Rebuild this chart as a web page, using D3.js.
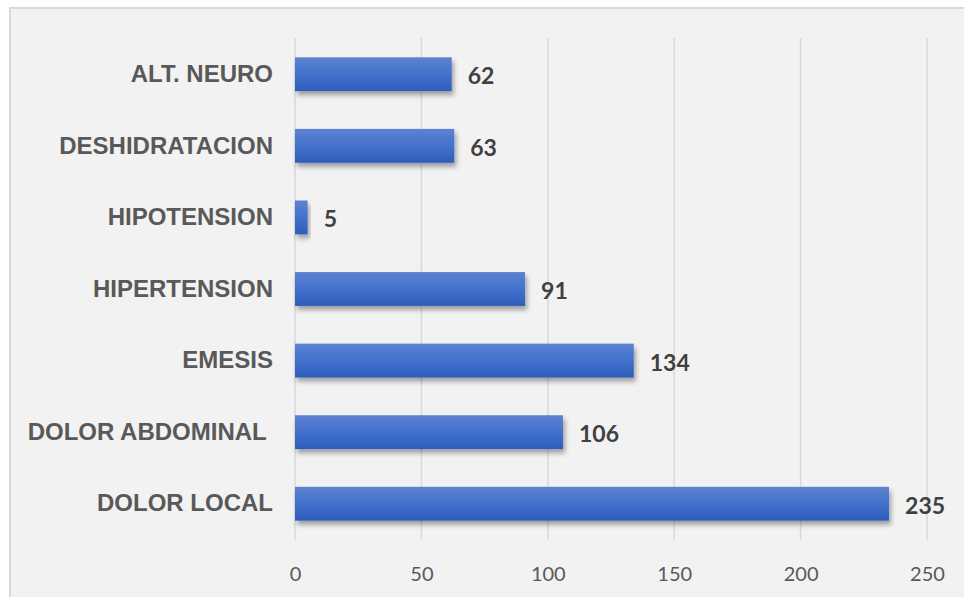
<!DOCTYPE html>
<html>
<head>
<meta charset="utf-8">
<script src="https://cdn.jsdelivr.net/npm/d3@7"></script>
<style>
  html, body { margin: 0; padding: 0; background: #ffffff; }
  svg { display: block; }
  .cat text { white-space: pre; }
</style>
</head>
<body>
<svg id="chart" width="964" height="597"></svg>
<script>
// Categories, top to bottom, and their counts
const categories = ["ALT. NEURO", "DESHIDRATACION", "HIPOTENSION", "HIPERTENSION", "EMESIS", "DOLOR ABDOMINAL ", "DOLOR LOCAL"];
const values = [62, 63, 5, 91, 134, 106, 235];
const xTicks = [0, 50, 100, 150, 200, 250];

const data = categories.map((c, i) => ({ cat: c, value: values[i] }));

const svg = d3.select("#chart");

// Chart area panel
svg.append("rect")
  .attr("x", 10).attr("y", 8)
  .attr("width", 980).attr("height", 620)
  .attr("fill", "#f2f2f2")
  .attr("stroke", "#d9d9d9")
  .attr("stroke-width", 2);

const plotTop = 38, plotBottom = 540;
const x = d3.scaleLinear().domain([0, 250]).range([295, 927]);
const y = d3.scaleBand().domain(categories).range([plotTop, plotBottom])
  .paddingInner(0.527).paddingOuter(0.27);

const defs = svg.append("defs");
const grad = defs.append("linearGradient")
  .attr("id", "barGrad").attr("x1", 0).attr("y1", 0).attr("x2", 0).attr("y2", 1);
grad.append("stop").attr("offset", "0%").attr("stop-color", "#5d82d2");
grad.append("stop").attr("offset", "50%").attr("stop-color", "#4371cc");
grad.append("stop").attr("offset", "100%").attr("stop-color", "#2d5dbb");

const shadow = defs.append("filter").attr("id", "barShadow")
  .attr("x", "-10%").attr("y", "-30%").attr("width", "130%").attr("height", "180%");
shadow.append("feDropShadow")
  .attr("dx", 2).attr("dy", 4).attr("stdDeviation", 2.5)
  .attr("flood-color", "#000").attr("flood-opacity", 0.35);

// Vertical gridlines
svg.append("g").selectAll("line")
  .data(xTicks)
  .join("line")
  .attr("x1", d => x(d)).attr("x2", d => x(d))
  .attr("y1", plotTop).attr("y2", plotBottom)
  .attr("stroke", "#d9d9d9")
  .attr("stroke-width", 1.5);

// Bars
svg.append("g").selectAll("rect")
  .data(data)
  .join("rect")
  .attr("x", x(0))
  .attr("y", d => y(d.cat))
  .attr("width", d => x(d.value) - x(0))
  .attr("height", y.bandwidth())
  .attr("fill", "url(#barGrad)")
  .attr("filter", "url(#barShadow)");

// Value labels
svg.append("g").selectAll("text")
  .data(data)
  .join("text")
  .attr("x", d => x(d.value) + 16)
  .attr("y", d => y(d.cat) + y.bandwidth() / 2 + 1)
  .attr("dominant-baseline", "central")
  .attr("font-family", "Lato, 'Open Sans', sans-serif")
  .attr("font-weight", "bold")
  .attr("font-size", 23)
  .attr("fill", "#404040")
  .text(d => d.value);

// Category axis
const yAxis = svg.append("g")
  .attr("class", "cat")
  .attr("transform", `translate(${x(0)},0)`)
  .call(d3.axisLeft(y).tickSize(0).tickPadding(22));
yAxis.select(".domain").remove();
yAxis.selectAll("text")
  .attr("font-family", "'Liberation Sans', Arial, sans-serif")
  .attr("font-weight", "bold")
  .attr("font-size", 24)
  .attr("fill", "#595959");

// Value axis
const xAxis = svg.append("g")
  .attr("transform", `translate(0,${plotBottom})`)
  .call(d3.axisBottom(x).tickValues(xTicks).tickSize(0).tickPadding(0));
xAxis.select(".domain").remove();
xAxis.selectAll("text")
  .attr("y", 33)
  .attr("dy", 0)
  .attr("dominant-baseline", "central")
  .attr("font-family", "Lato, 'Open Sans', sans-serif")
  .attr("font-size", 20)
  .attr("fill", "#595959");
</script>
</body>
</html>
